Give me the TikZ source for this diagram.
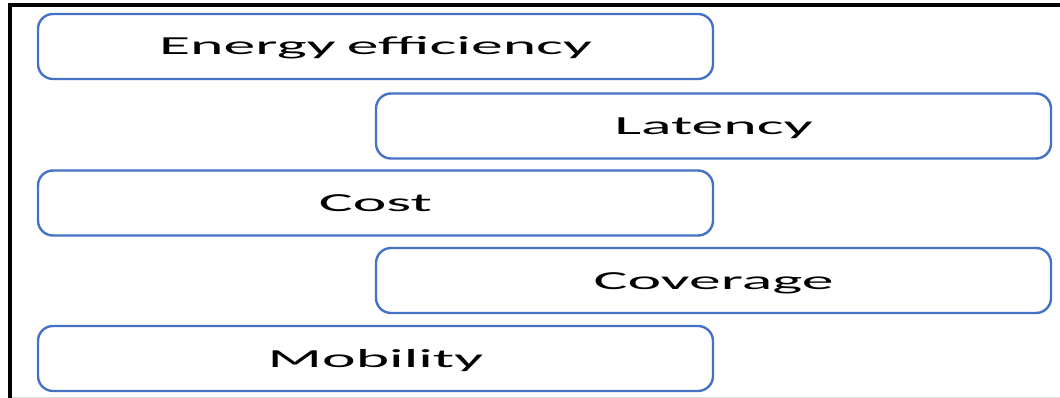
\documentclass[tikz,border=0pt]{standalone}
\usepackage{fontspec}
\newfontfamily\boxfont[FakeStretch=2.45]{Carlito}
\definecolor{boxblue}{HTML}{4472C4}
\begin{document}
\begin{tikzpicture}[x=1pt,y=-1pt,
  item/.style={draw=boxblue, line width=2.4pt, rounded corners=15pt,
    minimum width=675pt, minimum height=65pt, inner sep=0pt,
    text height=17pt, text depth=0pt,
    font=\boxfont\fontsize{26}{30}\selectfont}]
\useasboundingbox (0,0) rectangle (1060,398);
\coordinate (fbl) at (10,398);
\coordinate (ftl) at (10,5.5);
\coordinate (ftr) at (1060,5.5);
\coordinate (gbl) at (10,397);
\coordinate (gbr) at (1060,397);
\draw[black!15, line width=1pt] (gbl) -- (gbr);
\draw[line width=4pt] (fbl) -- (ftl) -- (ftr);
\node[item] (b1) at (375.5,46.5) {Energy\hspace{-0.12em} efficiency};
\node[item] (b2) at (713.5,126) {Latency};
\node[item] (b3) at (375.5,203) {Cost};
\node[item] (b4) at (713.5,280.5) {Coverage};
\node[item] (b5) at (375.5,358.5) {Mobility};
\end{tikzpicture}
\end{document}
